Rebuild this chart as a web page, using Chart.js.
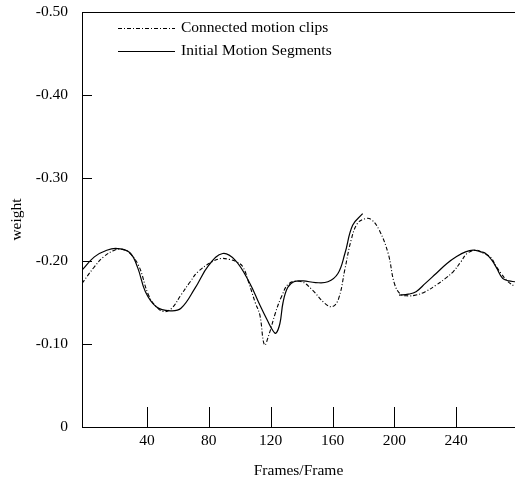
<!DOCTYPE html>
<html lang="en">

<head>
    <meta charset="UTF-8">
    <title>Weight per frame</title>
    <script src="https://cdn.jsdelivr.net/npm/chart.js"></script>
    <style>
        html, body { margin: 0; padding: 0; background: #fff; }
        #wrap { width: 515px; height: 481px; }
    </style>
</head>

<body>
    <div id="wrap"><canvas id="weightChart"></canvas></div>

    <script>
        // dash-dot curve
        const clipLabel = 'Connected motion clips';
        const clipFrames = [-2, 6, 12, 19, 24, 28, 34.5, 41, 46, 51, 56, 62, 68, 73, 82, 88, 93, 98, 102, 106,
            110, 113, 116, 119, 123, 127, 132, 140, 147, 155, 160, 164, 168, 172, 176, 181, 185, 190, 196, 200,
            204, 209, 214, 220, 227, 233, 238, 243, 247, 253, 258, 262, 266, 269, 273, 278];
        const clipWeights = [-0.173, -0.193, -0.205, -0.213, -0.214, -0.211, -0.195, -0.159, -0.145, -0.139,
            -0.143, -0.159, -0.175, -0.187, -0.199, -0.203, -0.202, -0.199, -0.193, -0.173,
            -0.150, -0.135, -0.099, -0.112, -0.137, -0.157, -0.173, -0.175, -0.165, -0.149,
            -0.145, -0.155, -0.190, -0.225, -0.245, -0.251, -0.250, -0.238, -0.209, -0.173,
            -0.160, -0.158, -0.159, -0.163, -0.171, -0.179, -0.187, -0.199, -0.209, -0.213,
            -0.209, -0.205, -0.193, -0.185, -0.176, -0.169];

        // solid curve (gap between 180 and 203)
        const segLabel = 'Initial Motion Segments';
        const segFrames = [-2, 6, 14, 21, 29, 34, 39, 46, 55, 62, 71, 80, 89, 97, 106, 113, 118, 121.5, 123.5,
            126, 128, 131, 135, 141, 149, 157, 163.5, 168, 173, 179.5, 190,
            203, 209, 214, 220, 227, 234, 240, 246, 251, 256, 259, 263, 266, 270, 274, 278];
        const segWeights = [-0.189, -0.205, -0.213, -0.215, -0.210, -0.192, -0.163, -0.145, -0.140, -0.143,
            -0.167, -0.195, -0.209, -0.201, -0.175, -0.147, -0.128, -0.116, -0.113,
            -0.125, -0.150, -0.168, -0.175, -0.176, -0.174, -0.175, -0.185, -0.209, -0.243, -0.257, null,
            -0.159, -0.160, -0.163, -0.173, -0.185, -0.197, -0.205, -0.211, -0.213, -0.211, -0.209, -0.201,
            -0.192, -0.179, -0.176, -0.175];

        const xTicks = [40, 80, 120, 160, 200, 240];
        const yTicks = [-0.1, -0.2, -0.3, -0.4];

        const serif = '"Liberation Serif", "Times New Roman", serif';
        const clipDash = [4, 2, 1, 2];

        function toPoints(xs, ys) {
            return xs.map((x, i) => ({ x: x, y: ys[i] }));
        }

        // frame lines, inward ticks and the legend inside the plot
        const framePlugin = {
            id: 'frame',
            afterDraw(chart) {
                const ctx = chart.ctx;
                const area = chart.chartArea;
                const xs = chart.scales.x;
                const ys = chart.scales.y;
                ctx.save();
                ctx.strokeStyle = '#000';
                ctx.lineWidth = 1;
                ctx.beginPath();
                ctx.moveTo(area.left, area.top + 0.5);
                ctx.lineTo(area.right, area.top + 0.5);
                xTicks.forEach(t => {
                    const px = Math.round(xs.getPixelForValue(t)) + 0.5;
                    ctx.moveTo(px, area.bottom);
                    ctx.lineTo(px, area.bottom - 20);
                });
                yTicks.forEach(t => {
                    const py = Math.round(ys.getPixelForValue(t)) + 0.5;
                    ctx.moveTo(area.left, py);
                    ctx.lineTo(area.left + 10, py);
                });
                ctx.stroke();

                // legend
                const items = [
                    { label: clipLabel, dash: clipDash, y: 28 },
                    { label: segLabel, dash: [], y: 51 }
                ];
                ctx.font = '15.5px ' + serif;
                ctx.fillStyle = '#000';
                ctx.textBaseline = 'middle';
                items.forEach(it => {
                    ctx.beginPath();
                    ctx.setLineDash(it.dash);
                    ctx.lineWidth = 1.1;
                    ctx.moveTo(118, it.y + 0.5);
                    ctx.lineTo(175, it.y + 0.5);
                    ctx.stroke();
                    ctx.setLineDash([]);
                    ctx.fillText(it.label, 181, it.y);
                });
                ctx.restore();
            }
        };

        const ctx = document.getElementById('weightChart').getContext('2d');
        new Chart(ctx, {
            type: 'line',
            data: {
                datasets: [{
                    label: clipLabel,
                    data: toPoints(clipFrames, clipWeights),
                    borderColor: '#000',
                    borderWidth: 1.1,
                    borderDash: clipDash,
                    pointRadius: 0,
                    tension: 0.4,
                    fill: false
                }, {
                    label: segLabel,
                    data: toPoints(segFrames, segWeights),
                    borderColor: '#000',
                    borderWidth: 1.2,
                    pointRadius: 0,
                    tension: 0.4,
                    spanGaps: false,
                    fill: false
                }]
            },
            options: {
                responsive: true,
                maintainAspectRatio: false,
                animation: false,
                layout: { padding: 0 },
                plugins: {
                    legend: { display: false },
                    tooltip: { enabled: false }
                },
                scales: {
                    x: {
                        type: 'linear',
                        min: -2,
                        max: 278,
                        afterBuildTicks: s => { s.ticks = xTicks.map(v => ({ value: v })); },
                        afterFit: s => { s.height = 54; },
                        grid: { display: false, drawTicks: false },
                        border: { display: true, color: '#000', width: 1 },
                        ticks: {
                            padding: 5,
                            color: '#000',
                            font: { family: serif, size: 15.5 },
                            maxRotation: 0
                        },
                        title: {
                            display: true,
                            text: 'Frames/Frame',
                            color: '#000',
                            font: { family: serif, size: 15.5 },
                            padding: { top: 0, bottom: 1 }
                        }
                    },
                    y: {
                        type: 'linear',
                        min: -0.5,
                        max: 0,
                        reverse: true,
                        afterFit: s => { s.width = 82; s.paddingTop = 12; s.paddingBottom = 0; },
                        grid: { display: false, drawTicks: false },
                        border: { display: true, color: '#000', width: 1 },
                        ticks: {
                            stepSize: 0.1,
                            padding: 14,
                            color: '#000',
                            font: { family: serif, size: 15.5 },
                            callback: v => (Math.abs(v) < 1e-9 ? '0' : v.toFixed(2))
                        },
                        title: {
                            display: true,
                            text: 'weight',
                            color: '#000',
                            font: { family: serif, size: 15.5 },
                            padding: { top: 8, bottom: 0 }
                        }
                    }
                }
            },
            plugins: [framePlugin]
        });
    </script>
</body>

</html>
